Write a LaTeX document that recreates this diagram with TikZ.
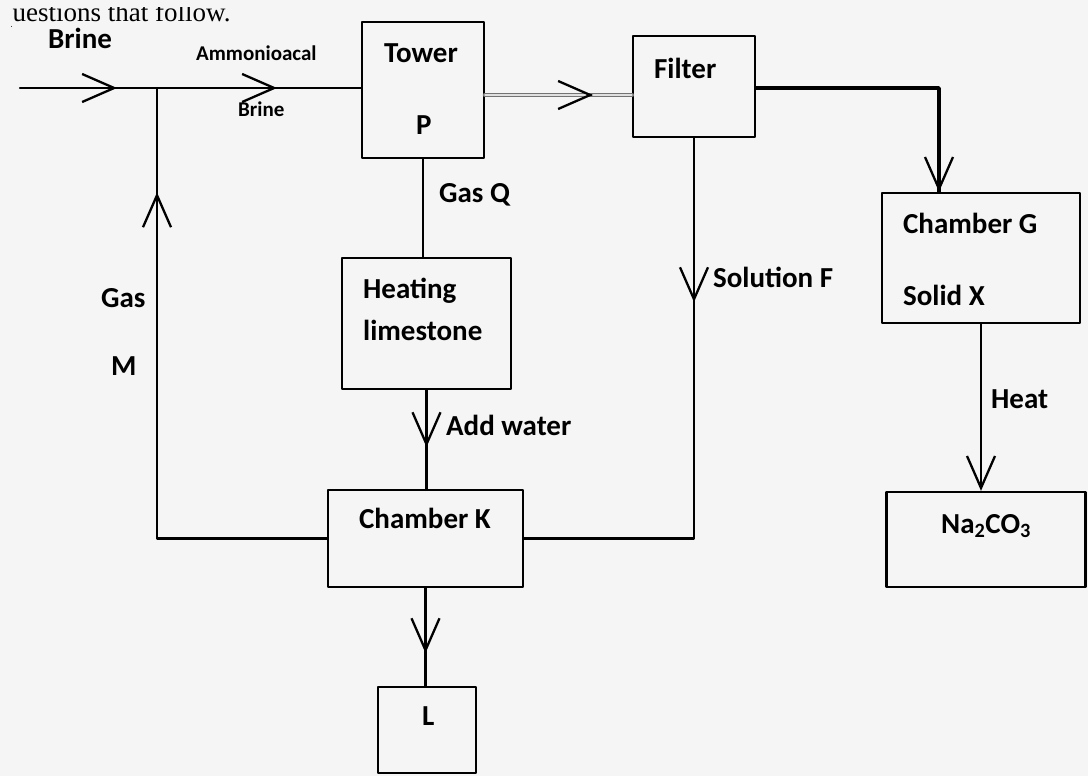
\documentclass[tikz,border=0pt]{standalone}
\usepackage{fontspec}
\setmainfont{Carlito}
\newfontfamily\headfont{Liberation Serif}
\usetikzlibrary{arrows.meta,decorations.markings}

\begin{document}
\begin{tikzpicture}[x=1pt, y=-1pt, line cap=round, line join=round, line width=2.3pt,
    chev/.tip={Straight Barb[length=32pt, width=28pt]},
    box/.style={draw, line width=2.3pt, inner sep=0pt},
    lbl/.style={anchor=base west, inner sep=0pt, font=\bfseries\fontsize{29}{32}\selectfont},
    sml/.style={anchor=base west, inner sep=0pt, font=\bfseries\fontsize{21}{24}\selectfont},
    midarr/.style={postaction={decorate, decoration={markings,
        mark=at position #1 with {\draw[-chev] (-2pt,0) -- (0,0);}}}}]
    % Define window bounds
    \colorlet{paper}{black!4}
    \useasboundingbox (0,0) rectangle (1088,776);
    \fill[paper] (0,0) rectangle (1088,776);

    % Cut-off line of the question above
    \begin{scope}
        \clip (11,8) rectangle (320,30);
        \node[anchor=base west, inner sep=0pt, font=\headfont\fontsize{27}{30}\selectfont] (hdr) at (-2,22) {questions that follow.};
    \end{scope}

    % Boxes
    \node[box, minimum width=122pt, minimum height=136pt] (tower) at (423,90) {};
    \node[box, minimum width=122pt, minimum height=101pt] (filter) at (694,86.5) {};
    \node[box, minimum width=169pt, minimum height=131pt] (heat) at (426.5,323.5) {};
    \node[box, minimum width=195pt, minimum height=97pt] (chk) at (425.5,538.5) {};
    \node[box, minimum width=98pt, minimum height=86pt] (ell) at (427,730) {};
    \node[box, minimum width=198pt, minimum height=130pt] (chg) at (981,258) {};
    \node[box, minimum width=199pt, minimum height=95pt] (soda) at (986,539.5) {};

    % Labels
    \node[lbl] (brinetxt) at (47,49) {Brine};
    \node[sml] (ammtxt) at (195,61) {Ammonioacal};
    \node[sml] (brinesm) at (237,117) {Brine};
    \node[lbl] (towertxt) at (383,63) {Tower};
    \node[lbl] (ptxt) at (415,135) {P};
    \node[lbl] (filtertxt) at (653,78) {Filter};
    \node[lbl] (gasq) at (438,202) {Gas Q};
    \node[lbl] (heattxt) at (362,298) {Heating};
    \node[lbl] (limetxt) at (362,340) {limestone};
    \node[lbl] (water) at (445,435) {Add water};
    \node[lbl] (ktxt) at (358,528) {Chamber K};
    \node[lbl] (ltxt) at (421,725) {L};
    \node[lbl] (solf) at (712,287) {Solution F};
    \node[lbl] (gastxt) at (100,307) {Gas};
    \node[lbl] (mtxt) at (110,375) {M};
    \node[lbl] (gtxt) at (902,233) {Chamber G};
    \node[lbl] (xtxt) at (902,305) {Solid X};
    \node[lbl] (heatlbl) at (990,408) {Heat};
    \node[lbl] (sodatxt) at (940,533) {Na\textsubscript{2}CO\textsubscript{3}};

    % Key points
    \coordinate (brin) at (20,88);
    \coordinate (jn) at (157,88);
    \coordinate (tf) at (485,95);
    \coordinate (fg) at (939,88);

    % Brine feed into the tower
    \draw[midarr=97pt, midarr=257pt] (brin) -- (brin -| tower.west);
    % Gas M back to the brine line
    \draw[midarr=516pt] (chk.west) -| (jn);
    % Tower to filter (double line)
    \draw[line width=4.5pt, black!55] (tf) -- (tf -| filter.west);
    \draw[line width=1.4pt, black!12] (tf) -- (tf -| filter.west);
    \path[line width=2.3pt, midarr=108pt] (tf) -- (tf -| filter.west);
    % Filter to chamber G
    \draw[line width=3.8pt] (filter.east |- fg) -- (fg) -- (fg |- chg.north);
    \draw[-chev] ([yshift=30pt]fg |- chg.north) -- (fg |- chg.north);
    % Tower down to heating, heating down to chamber K, chamber K down to L
    \draw (tower.south) -- (tower.south |- heat.north);
    \draw[midarr=57pt] (heat.south) -- (heat.south |- chk.north);
    \draw[midarr=65pt] (chk.south) -- (chk.south |- ell.north);
    % Solution F from filter to chamber K
    \draw[midarr=164pt] (filter.south) |- (chk.east);
    % Heating solid X
    \draw[-chev] (chg.south) -- (chg.south |- soda.north);
\end{tikzpicture}
\end{document}
